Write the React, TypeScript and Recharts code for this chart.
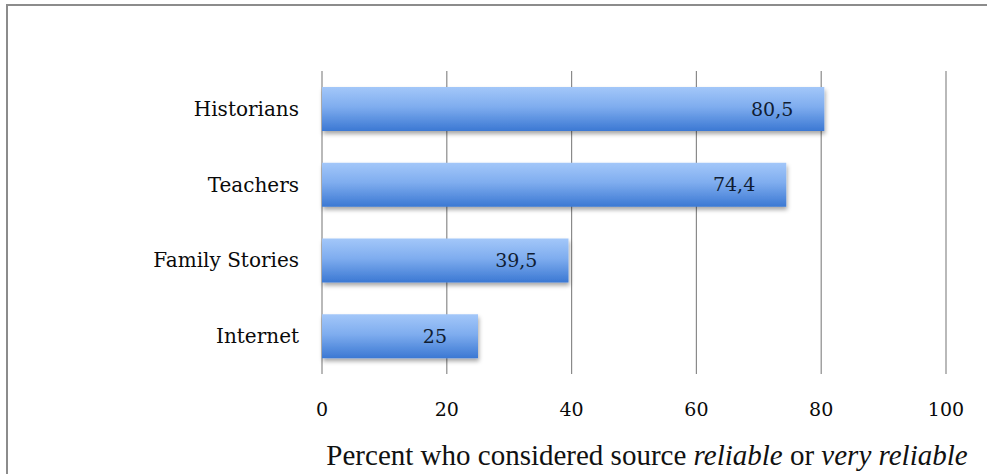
import { BarChart, Bar, XAxis, YAxis, CartesianGrid, LabelList, Label } from 'recharts'

const sources = ['Historians', 'Teachers', 'Family Stories', 'Internet']
const reliablePercent = [80.5, 74.4, 39.5, 25]
const percentTicks = [0, 20, 40, 60, 80, 100]

const TIMES = '"Liberation Serif", "Times New Roman", serif'
const BOOK = '"DejaVu Serif", Cambria, serif'

const rows = sources.map((name, i) => ({ name, value: reliablePercent[i] }))

// axis title with the italic words kept as tspans
function AxisTitle({ viewBox }: { viewBox?: { x: number; y: number; width: number; height: number } }) {
  if (!viewBox) return null
  return (
    <text x={647} y={465} textAnchor="middle" fontFamily={TIMES} fontSize={29} fill="#111">
      <tspan>Percent who considered source </tspan>
      <tspan fontStyle="italic">reliable</tspan>
      <tspan> or </tspan>
      <tspan fontStyle="italic">very reliable</tspan>
    </text>
  )
}

export default function App() {
  return (
    <div style={{ position: 'absolute', left: 0, top: 0, width: 987, height: 474, background: '#fff', overflow: 'hidden' }}>
      <div
        style={{
          position: 'absolute',
          left: 6,
          top: 4,
          width: 1000,
          height: 500,
          borderLeft: '2px solid #8c8c8c',
          borderTop: '2px solid #8c8c8c',
        }}
      />
      <BarChart
        width={987}
        height={474}
        data={rows}
        layout="vertical"
        margin={{ top: 71, right: 41, bottom: 0, left: 0 }}
        style={{ position: 'absolute', left: 0, top: 0 }}
      >
        <defs>
          <linearGradient id="barFill" x1="0" y1="0" x2="0" y2="1">
            <stop offset="0%" stopColor="#a3c7f9" />
            <stop offset="45%" stopColor="#7fadef" />
            <stop offset="100%" stopColor="#3b78d3" />
          </linearGradient>
          <filter id="barShadow" x="-5%" y="-20%" width="115%" height="160%">
            <feDropShadow dx="1" dy="3" stdDeviation="2" floodColor="#000" floodOpacity="0.35" />
          </filter>
        </defs>
        <CartesianGrid horizontal={false} stroke="#8a8a8a" strokeWidth={1.2} />
        <XAxis
          type="number"
          domain={[0, 100]}
          ticks={percentTicks}
          axisLine={false}
          tickLine={false}
          tickSize={0}
          tickMargin={29}
          height={100}
          tick={{ fontFamily: BOOK, fontSize: 19, fill: '#0a0a0a' }}
        >
          <Label content={<AxisTitle />} />
        </XAxis>
        <YAxis
          type="category"
          dataKey="name"
          width={322}
          axisLine={false}
          tickLine={false}
          tickSize={0}
          tickMargin={23}
          tick={{ fontFamily: BOOK, fontSize: 20, fill: '#0a0a0a' }}
        />
        <Bar dataKey="value" barSize={44} fill="url(#barFill)" filter="url(#barShadow)" isAnimationActive={false}>
          <LabelList
            dataKey="value"
            position="insideRight"
            offset={31}
            formatter={(v: number) => String(v).replace('.', ',')}
            style={{ fontFamily: BOOK, fontSize: 19, fill: '#101d33' }}
          />
        </Bar>
      </BarChart>
    </div>
  )
}
